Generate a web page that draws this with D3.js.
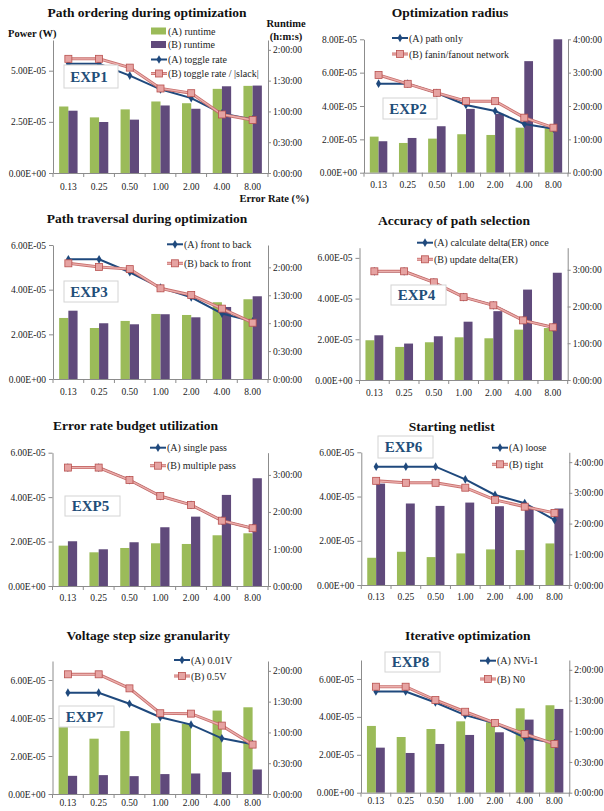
<!DOCTYPE html>
<html><head><meta charset="utf-8">
<script src="https://cdn.jsdelivr.net/npm/d3@7"></script>
<style>
html,body{margin:0;padding:0;background:#fff;}
svg{display:block;font-family:"Liberation Serif","Times New Roman",serif;}
</style>
</head><body>
<svg id="c" width="604" height="811"></svg>
<script>
// ---------- DATA ----------
const categories = ["0.13","0.25","0.50","1.00","2.00","4.00","8.00"];

// runtimes in minutes (right axis), power in W (left axis)
const exp1RuntimeA = [64.8, 54.2, 62.0, 69.7, 68.0, 82.0, 84.9];
const exp1RuntimeB = [60.7, 49.7, 52.0, 65.8, 62.6, 84.5, 85.2];
const exp1PowerA   = [5.34e-5, 5.34e-5, 4.76e-5, 4.09e-5, 3.66e-5, 2.91e-5, 2.62e-5];
const exp1PowerB   = [5.58e-5, 5.58e-5, 5.15e-5, 4.13e-5, 3.90e-5, 2.86e-5, 2.59e-5];

const exp2RuntimeA = [64.9, 53.5, 61.3, 69.2, 67.9, 81.0, 80.0];
const exp2RuntimeB = [56.6, 62.5, 83.6, 114.8, 105.8, 200.7, 240.0];
const exp2PowerA   = [5.34e-5, 5.34e-5, 4.78e-5, 4.06e-5, 3.70e-5, 2.92e-5, 2.64e-5];
const exp2PowerB   = [5.86e-5, 5.33e-5, 4.79e-5, 4.29e-5, 4.29e-5, 3.30e-5, 2.70e-5];

const exp3RuntimeA = [65.6, 54.8, 62.4, 69.9, 68.8, 82.5, 85.7];
const exp3RuntimeB = [73.4, 59.9, 58.8, 69.6, 66.3, 77.4, 88.9];
const exp3PowerA   = [5.36e-5, 5.36e-5, 4.78e-5, 4.09e-5, 3.66e-5, 2.93e-5, 2.58e-5];
const exp3PowerB   = [5.18e-5, 5.02e-5, 4.92e-5, 4.06e-5, 3.76e-5, 3.15e-5, 2.52e-5];

const exp4RuntimeA = [64.9, 54.0, 61.6, 69.7, 68.1, 82.2, 84.8];
const exp4RuntimeB = [73.0, 59.5, 71.4, 95.2, 112.4, 147.6, 175.1];
const exp4PowerA   = [5.34e-5, 5.34e-5, 4.80e-5, 4.07e-5, 3.67e-5, 2.93e-5, 2.59e-5];
const exp4PowerB   = [5.34e-5, 5.34e-5, 4.80e-5, 4.07e-5, 3.67e-5, 2.93e-5, 2.59e-5];

const exp5RuntimeA = [65.4, 54.6, 61.6, 69.2, 68.1, 82.2, 85.4];
const exp5RuntimeB = [72.5, 59.5, 70.9, 95.2, 112.4, 147.6, 174.6];
const exp5PowerA   = [5.33e-5, 5.33e-5, 4.77e-5, 4.05e-5, 3.65e-5, 2.94e-5, 2.60e-5];
const exp5PowerB   = [5.33e-5, 5.33e-5, 4.77e-5, 4.05e-5, 3.65e-5, 2.94e-5, 2.60e-5];

const exp6RuntimeA = [53.2, 64.9, 54.5, 61.7, 69.5, 68.2, 81.2];
const exp6RuntimeB = [198.0, 159.2, 154.5, 161.0, 153.9, 152.5, 149.4];
const exp6PowerA   = [5.35e-5, 5.35e-5, 5.35e-5, 4.78e-5, 4.07e-5, 3.70e-5, 2.94e-5];
const exp6PowerB   = [4.71e-5, 4.62e-5, 4.62e-5, 4.40e-5, 3.85e-5, 3.54e-5, 3.26e-5];

const exp7RuntimeA = [65.2, 53.9, 61.3, 69.0, 68.4, 81.3, 84.5];
const exp7RuntimeB = [17.7, 18.4, 17.4, 19.4, 20.0, 21.3, 23.9];
const exp7PowerA   = [5.33e-5, 5.33e-5, 4.75e-5, 4.04e-5, 3.65e-5, 2.93e-5, 2.62e-5];
const exp7PowerB   = [6.30e-5, 6.30e-5, 5.56e-5, 4.25e-5, 4.23e-5, 3.60e-5, 2.60e-5];

const exp8RuntimeA = [65.2, 54.4, 62.2, 69.7, 68.8, 82.4, 85.4];
const exp8RuntimeB = [44.0, 38.8, 47.6, 56.4, 59.0, 71.4, 81.8];
const exp8PowerA   = [5.34e-5, 5.34e-5, 4.76e-5, 4.09e-5, 3.66e-5, 2.91e-5, 2.62e-5];
const exp8PowerB   = [5.59e-5, 5.59e-5, 4.89e-5, 4.27e-5, 3.68e-5, 3.10e-5, 2.57e-5];

// tick labels
const leftTicks25 = [0, 2.5e-5, 5e-5];
const leftTicks20 = [0, 2e-5, 4e-5, 6e-5];
const leftTicks80 = [0, 2e-5, 4e-5, 6e-5, 8e-5];
const rightTicks30 = [0, 30, 60, 90, 120];
const rightTicks60a = [0, 60, 120, 180];
const rightTicks60b = [0, 60, 120, 180, 240];

const titles = ["Path ordering during optimization","Optimization radius","Path traversal during optimization",
  "Accuracy of path selection","Error rate budget utilization","Starting netlist",
  "Voltage step size granularity","Iterative optimization"];
const expLabels = ["EXP1","EXP2","EXP3","EXP4","EXP5","EXP6","EXP7","EXP8"];
const legendNames = [
  ["(A) runtime","(B) runtime","(A) toggle rate","(B) toggle rate / |slack|"],
  ["(A)  path only","(B) fanin/fanout network"],
  ["(A) front to back","(B) back to front"],
  ["(A) calculate delta(ER) once","(B) update delta(ER)"],
  ["(A) single pass","(B) multiple pass"],
  ["(A) loose","(B) tight"],
  ["(A) 0.01V","(B) 0.5V"],
  ["(A) NVi-1","(B) N0"]
];

// ---------- LAYOUT ----------
const panels = [
  {rA:exp1RuntimeA,rB:exp1RuntimeB,pA:exp1PowerA,pB:exp1PowerB,x0:53,x1:268,yB:173,yT:40,lMax:6.5e-5,rMax:129.6,lt:leftTicks25,rt:rightTicks30,tx:147,ty:12,lx:151,ly:[31,44.5,59.5,73.5],box:[64,65,54,23],pad:10},
  {rA:exp2RuntimeA,rB:exp2RuntimeB,pA:exp2PowerA,pB:exp2PowerB,x0:364,x1:568,yB:172.7,yT:39.3,lMax:8e-5,rMax:240,lt:leftTicks80,rt:rightTicks60b,tx:450,ty:12,lx:392,ly:[38,54],box:[383,98,54,21],pad:9},
  {rA:exp3RuntimeA,rB:exp3RuntimeB,pA:exp3PowerA,pB:exp3PowerB,x0:53,x1:268,yB:379,yT:245,lMax:6e-5,rMax:144,lt:leftTicks20,rt:rightTicks30,tx:147,ty:218,lx:167,ly:[244.3,263.3],box:[64,281,54,21],pad:9},
  {rA:exp4RuntimeA,rB:exp4RuntimeB,pA:exp4PowerA,pB:exp4PowerB,x0:359.5,x1:567.7,yB:380,yT:247.7,lMax:6.5e-5,rMax:216,lt:leftTicks20,rt:rightTicks60a,tx:454,ty:220,lx:417,ly:[242.7,259.3],box:[391,285,55,20],pad:9},
  {rA:exp5RuntimeA,rB:exp5RuntimeB,pA:exp5PowerA,pB:exp5PowerB,x0:52.5,x1:268,yB:586,yT:452.7,lMax:6e-5,rMax:216,lt:leftTicks20,rt:rightTicks60a,tx:135.5,ty:425.7,lx:150,ly:[447.7,465.7],box:[65,496,55,20],pad:8},
  {rA:exp6RuntimeA,rB:exp6RuntimeB,pA:exp6PowerA,pB:exp6PowerB,x0:361.3,x1:569.3,yB:585,yT:452.3,lMax:6e-5,rMax:259.2,lt:leftTicks20,rt:rightTicks60b,tx:451.7,ty:426,lx:492,ly:[447.7,464.3],box:[378,436,55,22],pad:8},
  {rA:exp7RuntimeA,rB:exp7RuntimeB,pA:exp7PowerA,pB:exp7PowerB,x0:52.5,x1:268,yB:794,yT:661,lMax:7e-5,rMax:129.6,lt:leftTicks20,rt:rightTicks30,tx:148.3,ty:635,lx:174,ly:[660,676],box:[59,706,55,21],pad:5},
  {rA:exp8RuntimeA,rB:exp8RuntimeB,pA:exp8PowerA,pB:exp8PowerB,x0:361,x1:569.3,yB:792.7,yT:660,lMax:7e-5,rMax:129.6,lt:leftTicks20,rt:rightTicks30,tx:467.8,ty:635,lx:480,ly:[660.7,679],box:[385,652,55,20],pad:5}
];

const C = {green:"#9BBB59", purple:"#604A7B", lineA:"#1F497D", lineBout:"#C9706E", lineBin:"#EBB0AE",
  mB:"#E6A3A2", mBs:"#B8504E", axis:"#8C8C8C", text:"#222", exp:"#1F4E79"};

function fmtE(v){
  if (v === 0) return "0.00E+00";
  const s = v.toExponential(2).toUpperCase();
  const parts = s.split("E");
  const sign = parts[1][0];
  const d = parts[1].slice(1).padStart(2,"0");
  return parts[0] + "E" + sign + d;
}
function fmtT(m){
  const h = Math.floor(m/60), mm = Math.round(m%60);
  return h + ":" + String(mm).padStart(2,"0") + ":00";
}

const svg = d3.select("#c");

panels.forEach((p, i) => {
  const g = svg.append("g");
  const x = d3.scaleBand().domain(categories).range([p.x0, p.x1]);
  const yL = d3.scaleLinear().domain([0, p.lMax]).range([p.yB, p.yT]);
  const yR = d3.scaleLinear().domain([0, p.rMax]).range([p.yB, p.yT]);
  const bw = x.bandwidth() * 0.3;
  const cx = c => x(c) + x.bandwidth()/2;

  // title
  g.append("text").attr("x", p.tx).attr("y", p.ty).attr("dy","0.35em")
    .attr("text-anchor","middle").attr("font-weight","bold").attr("font-size","13.5px")
    .attr("fill","#111").text(titles[i]);

  // bars
  g.selectAll(".ba").data(categories).enter().append("rect")
    .attr("x", c => cx(c) - bw).attr("width", bw)
    .attr("y", (c,j) => yR(Math.min(p.rA[j], p.rMax))).attr("height", (c,j) => p.yB - yR(Math.min(p.rA[j], p.rMax)))
    .attr("fill", C.green);
  g.selectAll(".bb").data(categories).enter().append("rect")
    .attr("x", c => cx(c)).attr("width", bw)
    .attr("y", (c,j) => yR(Math.min(p.rB[j], p.rMax))).attr("height", (c,j) => p.yB - yR(Math.min(p.rB[j], p.rMax)))
    .attr("fill", C.purple);

  // axes
  const la = g.append("g").attr("transform", `translate(${p.x0},0)`)
    .call(d3.axisLeft(yL).tickValues(p.lt).tickFormat(fmtE).tickSize(4).tickSizeOuter(0));
  const ra = g.append("g").attr("transform", `translate(${p.x1},0)`)
    .call(d3.axisRight(yR).tickValues(p.rt).tickFormat(fmtT).tickSize(3).tickSizeOuter(0));
  const ba = g.append("g").attr("transform", `translate(0,${p.yB})`)
    .call(d3.axisBottom(x).tickSize(0).tickPadding(p.pad));
  [la, ra, ba].forEach(a => {
    a.select(".domain").attr("stroke", C.axis).attr("stroke-width", 1);
    a.selectAll(".tick line").attr("stroke", C.axis);
    a.selectAll("text").attr("font-family","Liberation Serif, serif").attr("font-size","9.5px").attr("fill", C.text);
  });
  la.selectAll("text").attr("x", -7);
  ra.selectAll("text").attr("x", 5);
  // boundary ticks on category axis
  const bounds = categories.map(c => x(c)).concat([p.x1]);
  g.selectAll(".bt").data(bounds).enter().append("line")
    .attr("x1", d => d).attr("x2", d => d).attr("y1", p.yB).attr("y2", p.yB + 4)
    .attr("stroke", C.axis);

  // lines
  const lineA = d3.line().x((v,j) => cx(categories[j])).y(v => yL(v));
  g.append("path").attr("d", lineA(p.pA)).attr("fill","none").attr("stroke", C.lineA).attr("stroke-width", 2);
  g.selectAll(".ma").data(p.pA).enter().append("path")
    .attr("transform", (v,j) => `translate(${cx(categories[j])},${yL(v)})`)
    .attr("d", d3.symbol(d3.symbolDiamond, 22)).attr("fill", C.lineA);
  g.append("path").attr("d", lineA(p.pB)).attr("fill","none").attr("stroke", C.lineBout).attr("stroke-width", 3);
  g.append("path").attr("d", lineA(p.pB)).attr("fill","none").attr("stroke", C.lineBin).attr("stroke-width", 1.3);
  g.selectAll(".mb").data(p.pB).enter().append("rect")
    .attr("x", (v,j) => cx(categories[j]) - 3.5).attr("y", v => yL(v) - 3.5)
    .attr("width", 7).attr("height", 7).attr("fill", C.mB).attr("stroke", C.mBs).attr("stroke-width", 0.8);

  // legend
  const names = legendNames[i];
  const lg = g.append("g");
  names.forEach((nm, k) => {
    const yy = p.ly[k];
    const kind = names.length === 4 ? ["ga","pb","la","lb"][k] : ["la","lb"][k];
    const x0 = p.lx, x1 = p.lx + 16, mid = p.lx + 8;
    if (kind === "ga" || kind === "pb") {
      lg.append("rect").attr("x", x0).attr("y", yy - 3.5).attr("width", 15).attr("height", 7)
        .attr("fill", kind === "ga" ? C.green : C.purple);
    } else if (kind === "la") {
      lg.append("line").attr("x1", x0).attr("x2", x1).attr("y1", yy).attr("y2", yy).attr("stroke", C.lineA).attr("stroke-width", 2);
      lg.append("path").attr("transform", `translate(${mid},${yy})`).attr("d", d3.symbol(d3.symbolDiamond, 22)).attr("fill", C.lineA);
    } else {
      lg.append("line").attr("x1", x0).attr("x2", x1).attr("y1", yy).attr("y2", yy).attr("stroke", C.lineBout).attr("stroke-width", 3);
      lg.append("line").attr("x1", x0).attr("x2", x1).attr("y1", yy).attr("y2", yy).attr("stroke", C.lineBin).attr("stroke-width", 1.3);
      lg.append("rect").attr("x", mid - 3.5).attr("y", yy - 3.5).attr("width", 7).attr("height", 7)
        .attr("fill", C.mB).attr("stroke", C.mBs).attr("stroke-width", 0.8);
    }
    lg.append("text").attr("x", x1 + 1).attr("y", yy).attr("dy", "0.35em")
      .attr("font-size", "10px").attr("fill", C.text).text(nm);
  });

  // EXP box
  const b = p.box;
  g.append("rect").attr("x", b[0]).attr("y", b[1]).attr("width", b[2]).attr("height", b[3])
    .attr("fill", "#fff").attr("stroke", "#D4D4D4").attr("stroke-width", 1);
  g.append("text").attr("x", b[0] + b[2]/2 - 2).attr("y", b[1] + b[3]/2).attr("dy", "0.36em")
    .attr("text-anchor", "middle")
    .attr("font-size", "15px").attr("font-weight", "bold").attr("fill", C.exp).text(expLabels[i]);
});

// global labels
svg.append("text").attr("x", 8).attr("y", 33).attr("dy","0.35em").attr("font-size","10.5px").attr("font-weight","bold").attr("fill","#111").text("Power (W)");
svg.append("text").attr("x", 286).attr("y", 23).attr("dy","0.35em").attr("text-anchor","middle").attr("font-size","10.5px").attr("font-weight","bold").attr("fill","#111").text("Runtime");
svg.append("text").attr("x", 286).attr("y", 36).attr("dy","0.35em").attr("text-anchor","middle").attr("font-size","10.5px").attr("font-weight","bold").attr("fill","#111").text("(h:m:s)");
svg.append("text").attr("x", 309).attr("y", 198).attr("dy","0.35em").attr("text-anchor","end").attr("font-size","10.5px").attr("font-weight","bold").attr("fill","#111").text("Error Rate (%)");
</script>
</body></html>
